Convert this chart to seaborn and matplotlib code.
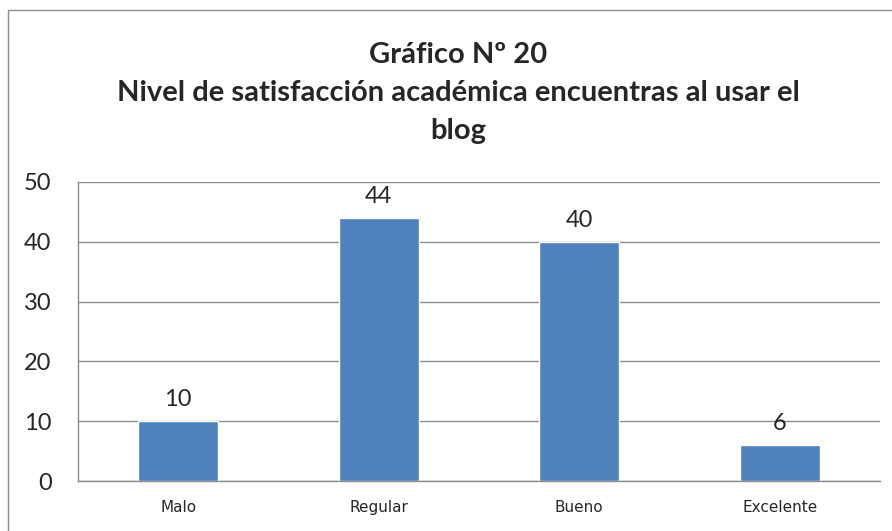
import matplotlib
matplotlib.use("Agg")
import matplotlib.pyplot as plt
import seaborn as sns
import pandas as pd
from matplotlib.patches import Rectangle

categorias = ["Malo", "Regular", "Bueno", "Excelente"]
valores = [10, 44, 40, 6]
y_ticks = [0, 10, 20, 30, 40, 50]
titulo = "Gráfico Nº 20\nNivel de satisfacción académica encuentras al usar el\nblog"

sns.set_theme(style="white")
plt.rcParams["font.family"] = ["Lato", "DejaVu Sans"]

df = pd.DataFrame({"categoria": categorias, "valor": valores})

fig = plt.figure(figsize=(8.92, 5.31), dpi=100)
ax = fig.add_axes([78 / 892, 1 - 481 / 531, (880 - 78) / 892, (481 - 182) / 531])

sns.barplot(data=df, x="categoria", y="valor", color="#4F81BD", width=0.4,
            saturation=1, ax=ax)

ax.set_ylim(0, 50)
ax.set_yticks(y_ticks)
ax.set_xlim(-0.5, len(categorias) - 0.5)
ax.yaxis.grid(True, color="#8c8c8c", linewidth=1)
ax.set_axisbelow(True)
for side in ["top", "right"]:
    ax.spines[side].set_visible(False)
for side in ["left", "bottom"]:
    ax.spines[side].set_color("#8c8c8c")
    ax.spines[side].set_linewidth(1)
ax.tick_params(axis="y", length=0, labelsize=17, pad=19)
ax.tick_params(axis="x", length=0, pad=14)
for lab in ax.get_xticklabels():
    lab.set_fontfamily("DejaVu Sans")
    lab.set_fontsize(11)
ax.set_xlabel("")
ax.set_ylabel("")

for i, v in enumerate(valores):
    ax.annotate(str(v), (i, v), xytext=(0, 8), textcoords="offset points",
                ha="center", va="bottom", fontsize=17)

fig.text(458 / 892, 1 - 93 / 531, titulo, ha="center", va="center",
         fontsize=21, fontweight="bold", linespacing=1.55)

# outer chart frame
fig.patches.append(Rectangle((8 / 892, -0.05), 1.0, 1 - 10 / 531 + 0.05,
                             transform=fig.transFigure, fill=False,
                             edgecolor="#8c8c8c", linewidth=1))

fig.savefig("out.png", dpi=100)
